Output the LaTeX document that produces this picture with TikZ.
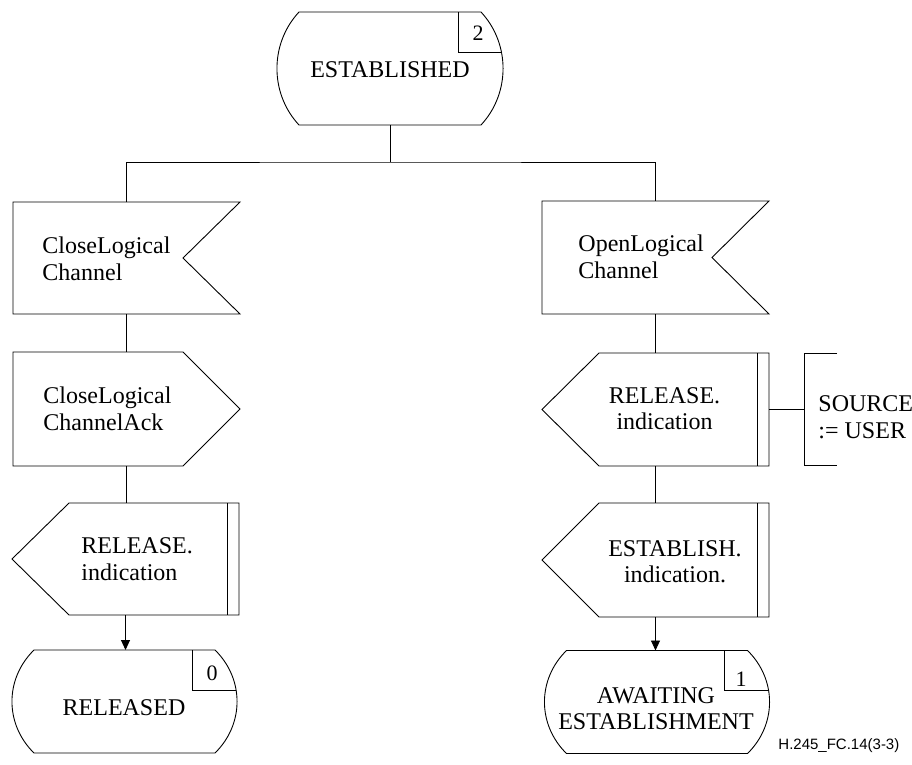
\documentclass[tikz,border=0pt]{standalone}
\usepackage{fontspec}
\setmainfont{Liberation Serif}
\newfontfamily\figlabelfont{Liberation Sans}
\usetikzlibrary{calc,arrows.meta}

\newcommand\sdlstatepath[1]{($(#1.north west)+(22,0)$) -- ($(#1.north east)+(-22,0)$) .. controls ($(#1.north east)!0.28!(#1.south east)+(7.4,0)$) and ($(#1.north east)!0.72!(#1.south east)+(7.4,0)$) .. ($(#1.south east)+(-22,0)$) -- ($(#1.south west)+(22,0)$) .. controls ($(#1.north west)!0.72!(#1.south west)+(-7.4,0)$) and ($(#1.north west)!0.28!(#1.south west)+(-7.4,0)$) .. cycle}
\newcommand\sdldrawstate[1]{%
  \draw \sdlstatepath{#1};
  \begin{scope}
    \clip \sdlstatepath{#1};
    \draw ($(#1.north east)+(-45,0)$) -- ++(0,40) -- ++(70,0);
  \end{scope}}
\newcommand\sdldrawinput[1]{%
  \draw (#1.north west) -- (#1.north east) -- ($(#1.east)+(-57,0)$) -- (#1.south east) -- (#1.south west) -- cycle;}
\newcommand\sdldrawoutput[1]{%
  \draw (#1.north west) -- ($(#1.north east)+(-57,0)$) -- (#1.east) -- ($(#1.south east)+(-57,0)$) -- (#1.south west) -- cycle;}
\newcommand\sdldrawindication[1]{%
  \draw (#1.west) -- ($(#1.north west)+(57,0)$) -- (#1.north east) -- (#1.south east) -- ($(#1.south west)+(57,0)$) -- cycle;
  \draw ($(#1.north east)+(-12,0)$) -- ($(#1.south east)+(-12,0)$);}

\begin{document}
\begin{tikzpicture}[x=1pt,y=-1pt,line width=0.9pt,
  shapebox/.style={draw=none,inner sep=0pt,outer sep=0pt,minimum width=227pt},
  txt/.style={font=\fontsize{24}{27}\selectfont,inner sep=0pt,align=left},
  ctxt/.style={font=\fontsize{24}{26}\selectfont,inner sep=0pt,align=center},
  numtxt/.style={font=\fontsize{22}{24}\selectfont,inner sep=0pt},
  arr/.style={-{Triangle[length=10pt,width=9pt]}}]
\useasboundingbox (0,0) rectangle (912,764);

% shape boxes
\node[shapebox,minimum width=226pt,minimum height=113pt] (est) at (390,68.5) {};
\node[shapebox,minimum height=112pt] (in1) at (126.5,258) {};
\node[shapebox,minimum height=114pt] (out1) at (126.5,409) {};
\node[shapebox,minimum height=112pt] (rel1) at (125.5,559) {};
\node[shapebox,minimum width=225pt,minimum height=103pt] (released) at (124.5,701.5) {};
\node[shapebox,minimum height=113pt] (in2) at (655.5,257.5) {};
\node[shapebox,minimum height=113pt] (relR) at (655.5,409.5) {};
\node[shapebox,minimum height=114pt] (estR) at (655.5,560) {};
\node[shapebox,minimum width=225pt,minimum height=103pt] (await) at (657,702) {};
\node[shapebox,minimum width=108pt,minimum height=112pt] (cmt) at (858,409.5) {};

\sdldrawstate{est}
\sdldrawinput{in1}
\sdldrawoutput{out1}
\sdldrawindication{rel1}
\sdldrawstate{released}
\sdldrawinput{in2}
\sdldrawindication{relR}
\sdldrawindication{estR}
\sdldrawstate{await}
\draw ($(cmt.north west)+(33,0)$) -- (cmt.north west) -- (cmt.south west) -- ($(cmt.south west)+(33,0)$);

% connectors
\coordinate (jn) at (390,162);
\draw (est.south) -- (jn);
\draw (in1.north) |- (jn) -| (in2.north);
\draw (in1.south) -- (in1.south |- out1.north);
\draw (out1.south) -- (out1.south |- rel1.north);
\draw[arr] (rel1.south) -- (rel1.south |- released.north);
\draw (in2.south) -- (in2.south |- relR.north);
\draw (relR.south) -- (relR.south |- estR.north);
\draw[arr] (estR.south) -- (estR.south |- await.north);
\draw (relR.east) -- (relR.east -| cmt.west);

% texts (base anchor = baseline of the last line)
\node[txt,anchor=base] (t0) at (390,77) {ESTABLISHED};
\node[numtxt,anchor=base] (n2) at (478,40) {2};
\node[txt,anchor=base west] (t1) at (42,280) {CloseLogical\\Channel};
\node[txt,anchor=base west] (t2) at (43,430) {CloseLogical\\ChannelAck};
\node[txt,anchor=base west] (t3) at (81,580) {RELEASE.\\indication};
\node[txt,anchor=base] (t4) at (124,715) {RELEASED};
\node[numtxt,anchor=base] (n0) at (212,680) {0};
\node[txt,anchor=base west] (t5) at (578,278) {OpenLogical\\Channel};
\node[ctxt,anchor=base] (t6) at (664.5,429) {RELEASE.\\indication};
\node[txt,anchor=base west] (t7) at (818,438) {SOURCE\\:= USER};
\node[ctxt,anchor=base] (t8) at (675,582) {ESTABLISH.\\indication.};
\node[ctxt,anchor=base] (t9) at (656,729) {AWAITING\\ESTABLISHMENT};
\node[numtxt,anchor=base] (n1) at (741,686) {1};
\node[font=\figlabelfont\fontsize{15}{18}\selectfont,inner sep=0pt,anchor=base west] (fig) at (778,749) {H.245\_FC.14(3-3)};
\end{tikzpicture}
\end{document}
